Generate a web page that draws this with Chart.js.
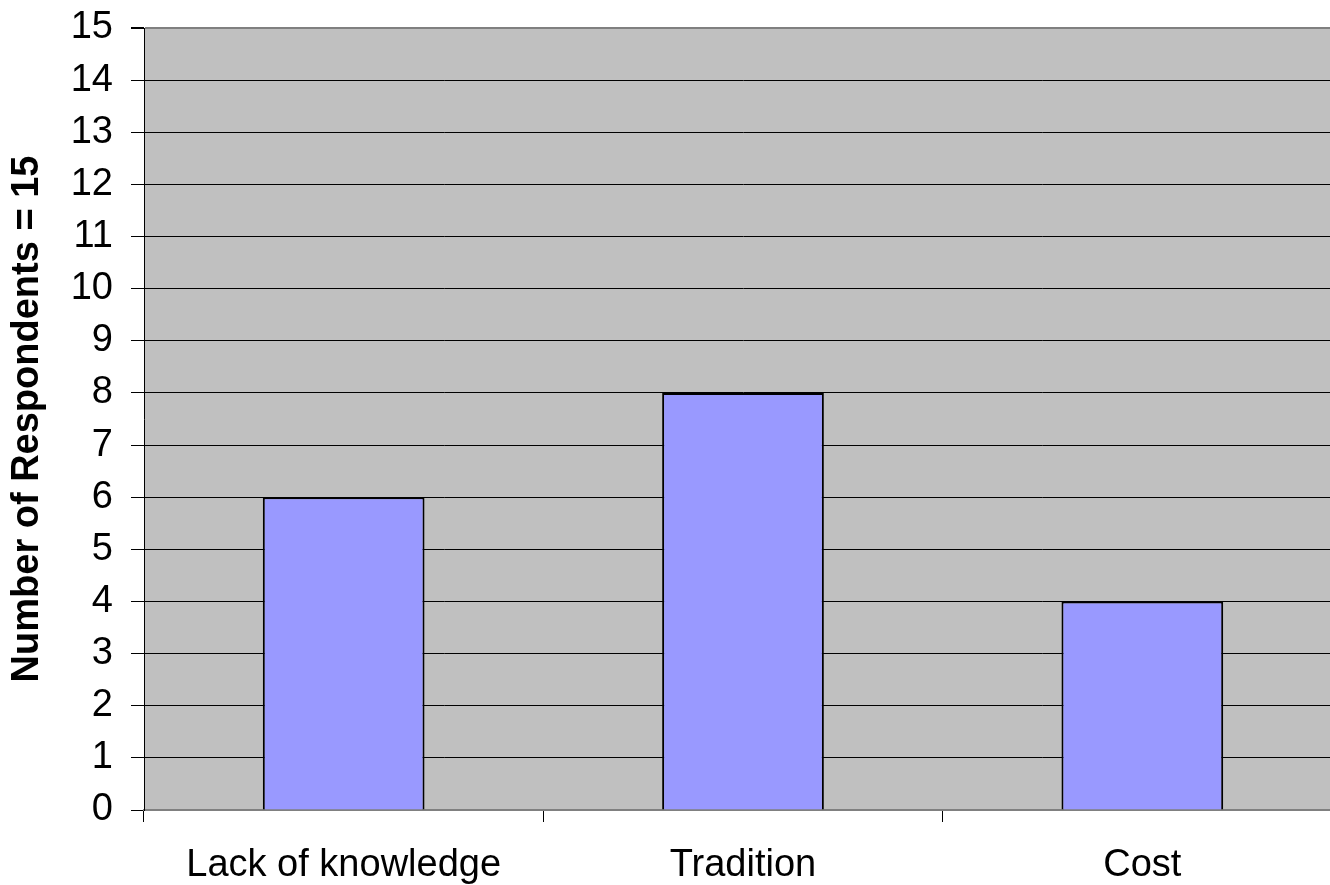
<!DOCTYPE html>
<html>
<head>
<meta charset="utf-8">
<script src="https://cdn.jsdelivr.net/npm/chart.js@4/dist/chart.umd.min.js"></script>
<style>
  html, body { margin: 0; padding: 0; background: #ffffff; overflow: hidden; width: 1330px; height: 885px; }
  #wrap { position: absolute; left: 0; top: 0; width: 1342px; height: 885px; }
</style>
</head>
<body>
<div id="wrap"><canvas id="c" width="1342" height="885"></canvas></div>
<script>
const categories = ["Lack of knowledge", "Tradition", "Cost"];
const respondents = [6, 8, 4];
const yMin = 0;
const yMax = 15;
const yStep = 1;
const yTitle = "Number of Respondents = 15";

const FONT = "'Liberation Sans', Arial, Helvetica, sans-serif";

const plotBg = {
  id: 'plotBg',
  beforeDraw(chart) {
    const {ctx, chartArea: a} = chart;
    ctx.save();
    ctx.fillStyle = '#C0C0C0';
    ctx.fillRect(a.left, a.top, a.right - a.left, a.bottom - a.top);
    ctx.restore();
  }
};

new Chart(document.getElementById('c'), {
  type: 'bar',
  data: {
    labels: categories,
    datasets: [{
      data: respondents,
      backgroundColor: '#9999FF',
      borderColor: '#000000',
      borderWidth: 2,
      categoryPercentage: 1.0,
      barPercentage: 0.405
    }]
  },
  options: {
    responsive: false,
    animation: false,
    devicePixelRatio: 1,
    layout: { padding: { top: 28, left: 0, right: 0, bottom: 0 } },
    plugins: { legend: { display: false }, tooltip: { enabled: false } },
    scales: {
      x: {
        offset: true,
        afterFit(scale) { scale.height = 75; scale.paddingLeft = 0; scale.paddingRight = 0; },
        grid: {
          offset: true,
          drawOnChartArea: false,
          drawTicks: true,
          tickLength: 12,
          color: '#000000',
          lineWidth: 1
        },
        border: { display: true, color: '#808080', width: 2 },
        ticks: {
          color: '#000000',
          font: { family: FONT, size: 38 },
          padding: 21,
          maxRotation: 0,
          minRotation: 0,
          autoSkip: false
        }
      },
      y: {
        min: yMin,
        max: yMax,
        afterFit(scale) { scale.width = 144; scale.paddingTop = 0; scale.paddingBottom = 0; },
        grid: {
          color: (ctx) => (ctx.tick && (ctx.tick.value === yMax || ctx.tick.value === yMin)) ? '#808080' : '#000000',
          lineWidth: (ctx) => (ctx.tick && ctx.tick.value === yMax) ? 2 : 1,
          tickColor: '#000000',
          tickLength: 13,
          drawTicks: true
        },
        border: { display: true, color: '#000000', width: 1 },
        ticks: {
          stepSize: yStep,
          color: '#000000',
          font: { family: FONT, size: 38 },
          padding: 18
        },
        title: {
          display: true,
          text: yTitle,
          color: '#000000',
          font: { family: FONT, size: 38, weight: 'bold' },
          padding: { top: 5, bottom: 0 }
        }
      }
    }
  },
  plugins: [plotBg]
});
</script>
</body>
</html>
